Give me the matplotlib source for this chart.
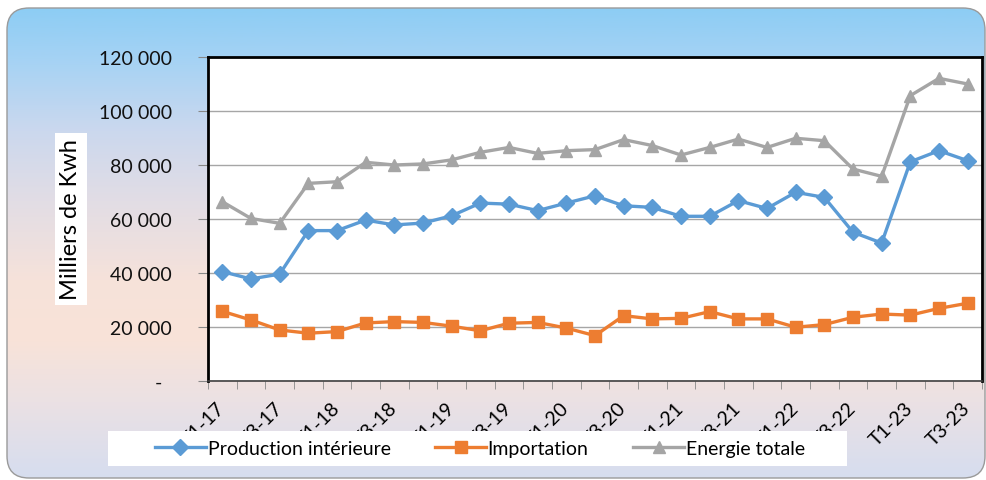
import numpy as np
import matplotlib
matplotlib.use('Agg')
import matplotlib.pyplot as plt
from matplotlib.patches import FancyBboxPatch, Rectangle
from matplotlib.colors import LinearSegmentedColormap
from matplotlib.ticker import FuncFormatter

plt.rcParams['font.family'] = ['Lato', 'DejaVu Sans']

# Data (milliers de Kwh), quarters T1-17 .. T3-23
quarters = [f"T{q}-{y}" for y in range(17, 24) for q in range(1, 5)][:27]
production = [40500, 37800, 39600, 55700, 55700, 59600, 57800, 58500, 61200,
              65900, 65500, 63100, 65900, 68600, 64900, 64300, 61000, 61000,
              66800, 63900, 69900, 68000, 55100, 51100, 81200, 85300, 81600]
importation = [25800, 22600, 18900, 17700, 18300, 21500, 22000, 21700, 20300,
               18600, 21400, 21700, 19600, 16800, 24200, 23000, 23200, 25700,
               23000, 23000, 19900, 20900, 23600, 24800, 24400, 26900, 28800]
energie = [66400, 60200, 58400, 73200, 73800, 81000, 80000, 80400, 81900,
           84700, 86500, 84300, 85300, 85700, 89400, 87200, 83700, 86500,
           89600, 86500, 89900, 89000, 78500, 75800, 105700, 112100, 110000]

W, H = 987, 481
fig = plt.figure(figsize=(W / 100, H / 100), dpi=100)

# background with rounded gradient box
bg = fig.add_axes([0, 0, 1, 1], zorder=-10)
bg.set_xlim(0, W)
bg.set_ylim(H, 0)
bg.axis('off')
cmap = LinearSegmentedColormap.from_list('bg', [
    (0.0, '#8dcdf4'), (0.12, '#a8d3f4'), (0.26, '#cbd8ee'), (0.41, '#e2dde5'),
    (0.58, '#f6e2da'), (0.70, '#f9e3d8'), (0.84, '#ebe1e4'), (1.0, '#d6ddef')])
grad = np.linspace(0, 1, 256).reshape(-1, 1)
im = bg.imshow(grad, cmap=cmap, aspect='auto', extent=(7, 985, 479, 9))
box = FancyBboxPatch((7, 9), 978, 470, boxstyle='round,pad=0,rounding_size=22',
                     facecolor='none', edgecolor='#9a9a9a', lw=1)
bg.add_patch(box)
im.set_clip_path(box)

# main axes
ax = fig.add_axes([208 / W, 1 - 382 / H, (982 - 208) / W, (382 - 58) / H])
x = np.arange(len(quarters))
ax.plot(x, production, color='#5b9bd5', lw=2.4, marker='D', ms=8.5,
        label='Production intérieure')
ax.plot(x, importation, color='#ed7d31', lw=2.4, marker='s', ms=8,
        label='Importation')
ax.plot(x, energie, color='#a5a5a5', lw=2.4, marker='^', ms=9,
        label='Energie totale')

ax.set_xlim(-0.5, len(quarters) - 0.5)
ax.set_ylim(0, 120000)
ax.set_yticks(np.arange(0, 120001, 20000))
ax.yaxis.set_major_formatter(FuncFormatter(
    lambda v, p: '-\u2002' if v == 0 else f"{int(v):,}".replace(',', ' ')))
ax.grid(axis='y', color='#a6a6a6', lw=1)
ax.set_axisbelow(True)
ax.tick_params(axis='y', length=7, color='#888888', pad=19, labelsize=14,
               labelcolor='#111111')

ax.set_xticks(x[::2])
ax.set_xticklabels(quarters[::2], rotation=45, ha='right', va='center',
                   rotation_mode='anchor', fontsize=14)
ax.set_xticks(np.arange(-0.5, len(quarters), 1), minor=True)
ax.tick_params(axis='x', which='major', length=0, pad=17)
ax.tick_params(axis='x', which='minor', length=6, color='#888888')

for s in ['top', 'left', 'right']:
    ax.spines[s].set_color('black')
    ax.spines[s].set_linewidth(2)
ax.spines['bottom'].set_color('#404040')
ax.spines['bottom'].set_linewidth(1.2)

# y label in white box
fig.text(71 / W, 1 - 220 / H, 'Milliers de Kwh', rotation=90, fontsize=17,
         ha='center', va='center',
         bbox=dict(facecolor='white', edgecolor='none', pad=4))

# legend on white strip
fig.patches.append(Rectangle((108 / W, 1 - 467 / H), 739 / W, 35 / H,
                             transform=fig.transFigure, facecolor='white',
                             edgecolor='none', zorder=4))
handles, labels = ax.get_legend_handles_labels()
fig.legend(handles, labels, loc='center', ncol=3, frameon=False, fontsize=14,
           bbox_to_anchor=(480 / W, 1 - 449.5 / H), handlelength=2.6,
           handletextpad=0.1, columnspacing=2.3)

fig.savefig('out.png', dpi=100)
